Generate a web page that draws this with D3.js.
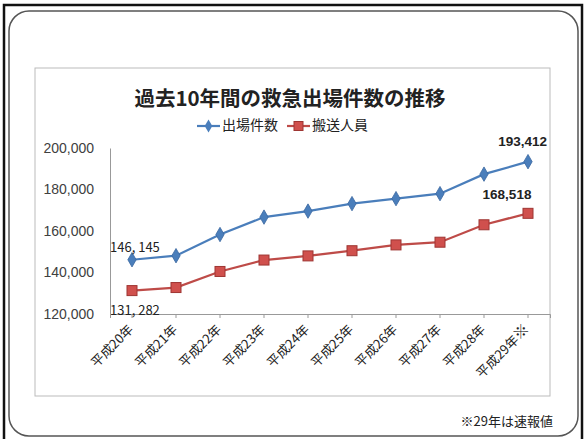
<!DOCTYPE html>
<html><head><meta charset="utf-8">
<script src="https://cdn.jsdelivr.net/npm/d3@7"></script>
<style>
html,body{margin:0;padding:0;background:#fff;}
svg{display:block;}
</style></head>
<body><svg id="c" width="586" height="439"></svg>
<script>
const categories = ["平成20年","平成21年","平成22年","平成23年","平成24年","平成25年","平成26年","平成27年","平成28年","平成29年※"];
const dispatchCounts = [146145,148100,158300,166700,169600,173200,175600,178000,187400,193412];
const transportCounts = [131282,132750,140500,146000,148000,150500,153300,154600,163000,168518];
const yTicks = [120000,140000,160000,180000,200000];
const seriesNames = ["出場件数","搬送人員"];
const titleText = "過去10年間の救急出場件数の推移";
const noteText = "※29年は速報値";

const svg = d3.select("#c");
const jp = "'Noto Sans CJK JP','Noto Sans',sans-serif";
const blue = "#4a7ebb", red = "#be4b48";

// frames
svg.append("rect").attr("x",4).attr("y",5).attr("width",578).attr("height",440)
  .attr("fill","none").attr("stroke","#111").attr("stroke-width",2.5);
svg.append("rect").attr("x",9).attr("y",11).attr("width",569).attr("height",425).attr("rx",20)
  .attr("fill","#fff").attr("stroke","#555").attr("stroke-width",1.5);
svg.append("rect").attr("x",35).attr("y",68).attr("width",515).attr("height",328)
  .attr("fill","#fff").attr("stroke","#bbb").attr("stroke-width",1);

const x = d3.scaleBand().domain(categories).range([110,550]);
const y = d3.scaleLinear().domain([120000,200000]).range([314,148]);

// axes
const yAxis = svg.append("g").attr("transform","translate(110,0)")
  .call(d3.axisLeft(y).tickValues(yTicks).tickSize(0).tickPadding(16).tickFormat(d3.format(",")));
yAxis.select(".domain").attr("stroke","#999");
yAxis.selectAll("text").attr("font-family","'Liberation Sans',sans-serif").attr("font-size",14).attr("fill","#404040");

const xAxis = svg.append("g").attr("transform","translate(0,314)")
  .call(d3.axisBottom(x).tickSize(4).tickFormat(d=>d));
xAxis.select(".domain").attr("stroke","#999");
xAxis.selectAll(".tick line").attr("stroke","#999");
xAxis.selectAll("text").attr("font-family",jp).attr("font-size",13).attr("fill","#222")
  .attr("text-anchor","end").attr("y",0).attr("dy","0.35em")
  .attr("transform","translate(-1,13) rotate(-45)")
  .each(function(d){
    if(d.endsWith("※")){
      const t=d3.select(this); t.text(d.slice(0,-1));
      t.append("tspan").attr("font-weight","bold").attr("font-size",15).text("※");
    }
  });

const cx = d => x(d) + x.bandwidth()/2;
const line = d3.line().x((d,i)=>cx(categories[i])).y(d=>y(d));

svg.append("path").datum(dispatchCounts).attr("d",line).attr("fill","none").attr("stroke",blue).attr("stroke-width",2.2);
svg.append("path").datum(transportCounts).attr("d",line).attr("fill","none").attr("stroke",red).attr("stroke-width",2.2);

svg.selectAll(".dm").data(dispatchCounts).enter().append("path")
  .attr("d",d3.symbol().type(d3.symbolDiamond).size(60)())
  .attr("transform",(d,i)=>`translate(${cx(categories[i])},${y(d)})`)
  .attr("fill",blue).attr("stroke","#3a67a0").attr("stroke-width",0.8);
svg.selectAll(".sq").data(transportCounts).enter().append("rect")
  .attr("x",(d,i)=>cx(categories[i])-5).attr("y",d=>y(d)-5).attr("width",10).attr("height",10)
  .attr("fill","#d0504d").attr("stroke","#9e3532").attr("stroke-width",1);

// data labels
const n = categories.length-1;
svg.append("text").attr("x",x(categories[0])).attr("y",y(dispatchCounts[0])-11)
  .attr("font-family","'Noto Sans CJK JP',sans-serif").attr("font-size",13).attr("fill","#222")
  .attr("dominant-baseline","middle").text(d3.format(",")(dispatchCounts[0]).replace(",",", "));
svg.append("text").attr("x",x(categories[0])).attr("y",y(transportCounts[0])+21)
  .attr("font-family","'Noto Sans CJK JP',sans-serif").attr("font-size",13).attr("fill","#222")
  .attr("dominant-baseline","middle").text(d3.format(",")(transportCounts[0]).replace(",",", "));
svg.append("text").attr("x",cx(categories[n])+19).attr("y",y(dispatchCounts[n])-19)
  .attr("font-family","'Liberation Sans',sans-serif").attr("font-weight","bold").attr("font-size",13.5).attr("fill","#222")
  .attr("text-anchor","end").attr("dominant-baseline","middle").text(d3.format(",")(dispatchCounts[n]));
svg.append("text").attr("x",cx(categories[n])-21).attr("y",y(transportCounts[n])-18)
  .attr("font-family","'Liberation Sans',sans-serif").attr("font-weight","bold").attr("font-size",13.5).attr("fill","#222")
  .attr("text-anchor","middle").attr("dominant-baseline","middle").text(d3.format(",")(transportCounts[n]));

// title
svg.append("text").attr("x",290).attr("y",100).attr("text-anchor","middle").attr("dominant-baseline","middle")
  .attr("font-family",jp).attr("font-weight","bold").attr("font-size",20.5).attr("fill","#222").text(titleText);

// legend
const lg = svg.append("g");
[[197,blue,"d"],[287,red,"s"]].forEach((o,i)=>{
  lg.append("line").attr("x1",o[0]).attr("x2",o[0]+23).attr("y1",126).attr("y2",126).attr("stroke",o[1]).attr("stroke-width",2.2);
  if(o[2]==="d") lg.append("path").attr("d",d3.symbol().type(d3.symbolDiamond).size(50)()).attr("transform",`translate(${o[0]+11.5},126)`).attr("fill",blue);
  else lg.append("rect").attr("x",o[0]+7).attr("y",121.5).attr("width",9).attr("height",9).attr("fill","#d0504d").attr("stroke","#9e3532");
  lg.append("text").attr("x",o[0]+25).attr("y",126).attr("dominant-baseline","middle")
    .attr("font-family",jp).attr("font-size",14).attr("fill","#222").text(seriesNames[i]);
});

// footnote
svg.append("text").attr("x",553).attr("y",422).attr("text-anchor","end").attr("dominant-baseline","middle")
  .attr("font-family",jp).attr("font-size",13).attr("fill","#222").text(noteText);
</script></body></html>
